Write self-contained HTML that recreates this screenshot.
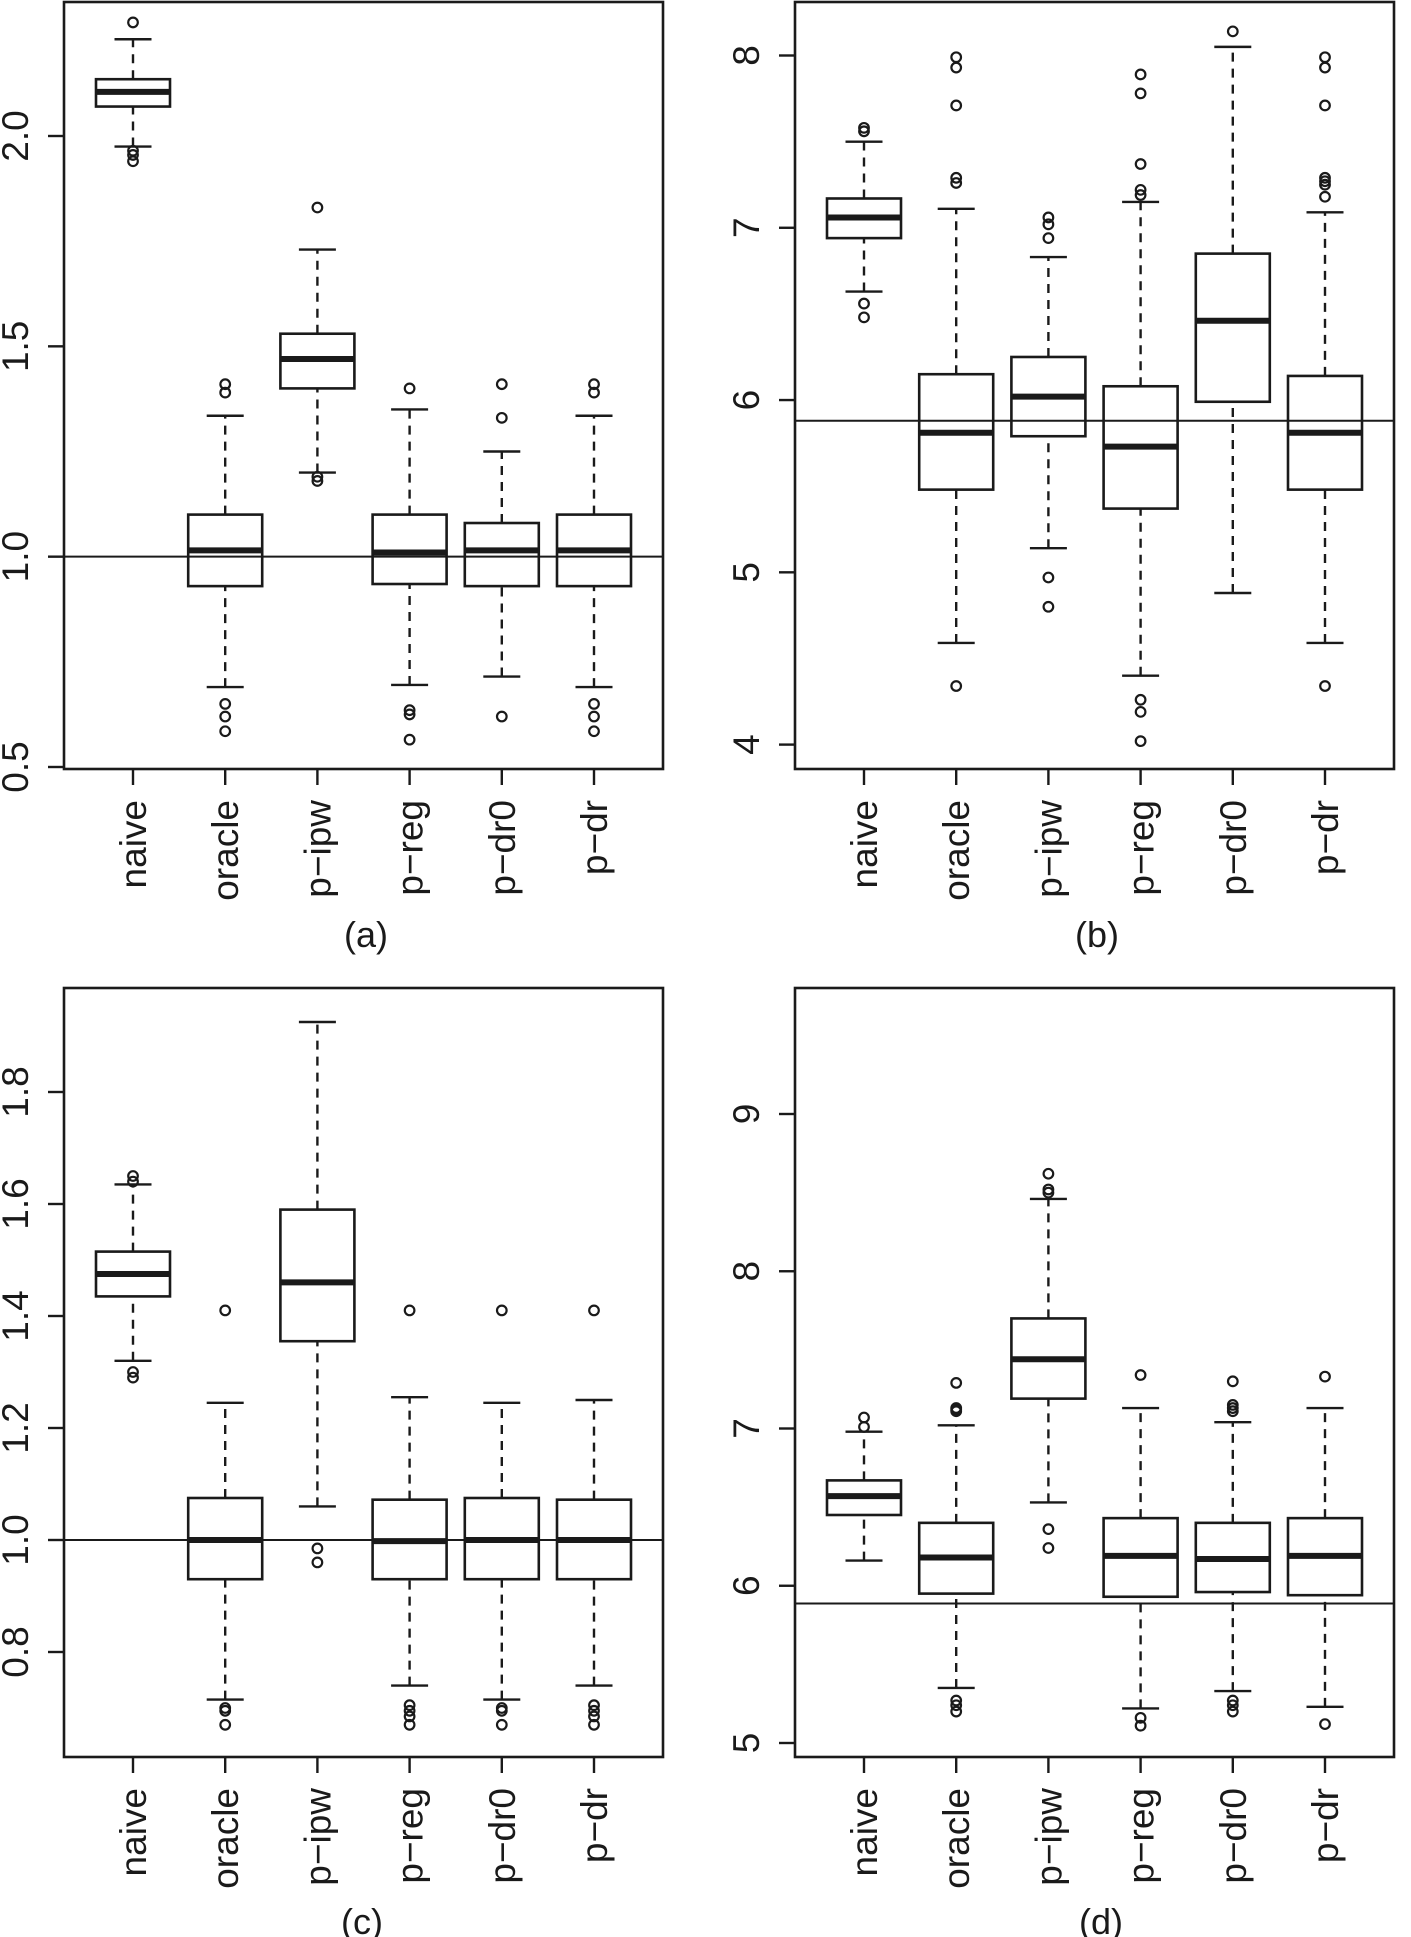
<!DOCTYPE html>
<html><head><meta charset="utf-8"><style>
html,body{margin:0;padding:0;background:#fff;}
svg{display:block;}
text{font-family:"Liberation Sans",sans-serif;fill:#1a1a1a;}
</style></head>
<body>
<svg id="fig" width="1411" height="1937" viewBox="0 0 1411 1937" xmlns="http://www.w3.org/2000/svg"></svg>
<script>
const categories = ["naive","oracle","p\u2212ipw","p\u2212reg","p\u2212dr0","p\u2212dr"];

// each row: [lowerWhisker, q1, median, q3, upperWhisker]
const statsA = [[1.975,2.07,2.105,2.135,2.23],[0.69,0.93,1.015,1.10,1.335],[1.20,1.40,1.47,1.53,1.73],[0.695,0.935,1.01,1.10,1.35],[0.715,0.93,1.015,1.08,1.25],[0.69,0.93,1.015,1.10,1.335]];
const outliersA = [[2.27,1.965,1.955,1.94],[1.41,1.39,0.65,0.62,0.585],[1.83,1.19,1.18],[1.40,0.635,0.625,0.565],[1.41,1.33,0.62],[1.41,1.39,0.65,0.62,0.585]];
const ticksA = [0.5,1.0,1.5,2.0];
const tickLabelsA = ["0.5","1.0","1.5","2.0"];
const refA = 1.0;

const statsB = [[6.63,6.94,7.06,7.17,7.50],[4.59,5.48,5.81,6.15,7.11],[5.14,5.79,6.02,6.25,6.83],[4.40,5.37,5.73,6.08,7.15],[4.88,5.99,6.46,6.85,8.05],[4.59,5.48,5.81,6.14,7.09]];
const outliersB = [[7.58,7.56,6.56,6.48],[7.99,7.93,7.71,7.29,7.26,4.34],[7.06,7.02,6.94,4.97,4.80],[7.89,7.78,7.37,7.22,7.19,4.26,4.19,4.02],[8.14],[7.99,7.93,7.71,7.29,7.27,7.25,7.18,4.34]];
const ticksB = [4,5,6,7,8];
const tickLabelsB = ["4","5","6","7","8"];
const refB = 5.88;

const statsC = [[1.32,1.435,1.475,1.515,1.635],[0.715,0.93,1.0,1.075,1.245],[1.06,1.355,1.46,1.59,1.925],[0.74,0.93,0.998,1.072,1.255],[0.715,0.93,1.0,1.075,1.245],[0.74,0.93,1.0,1.072,1.25]];
const outliersC = [[1.65,1.64,1.30,1.29],[1.41,0.70,0.695,0.67],[0.985,0.96],[1.41,0.705,0.695,0.685,0.67],[1.41,0.70,0.695,0.67],[1.41,0.705,0.695,0.685,0.67]];
const ticksC = [0.8,1.0,1.2,1.4,1.6,1.8];
const tickLabelsC = ["0.8","1.0","1.2","1.4","1.6","1.8"];
const refC = 1.0;

const statsD = [[6.16,6.45,6.57,6.67,6.98],[5.35,5.95,6.18,6.40,7.02],[6.53,7.19,7.44,7.70,8.46],[5.22,5.93,6.19,6.43,7.13],[5.33,5.96,6.17,6.40,7.04],[5.23,5.94,6.19,6.43,7.13]];
const outliersD = [[7.07,7.01],[7.29,7.13,7.12,7.11,5.27,5.24,5.20],[8.62,8.52,8.50,6.36,6.24],[7.34,5.16,5.11],[7.30,7.15,7.13,7.11,5.27,5.24,5.20],[7.33,5.12]];
const ticksD = [5,6,7,8,9];
const tickLabelsD = ["5","6","7","8","9"];
const refD = 5.887;

const NS = "http://www.w3.org/2000/svg";
const svg = document.getElementById("fig");
const INK = "#1a1a1a";

function mk(tag, attrs, parent){
  const e = document.createElementNS(NS, tag);
  for (const k in attrs) e.setAttribute(k, attrs[k]);
  parent.appendChild(e);
  return e;
}

const panels = [
  {id:"a", label:"(a)", x0:64, x1:663, y0:2, y1:769, v1:0.5, p1:767, v2:2.0, p2:136, stats:statsA, outs:outliersA, ticks:ticksA, tl:tickLabelsA, ref:refA, lx:366, ly:947},
  {id:"b", label:"(b)", x0:795, x1:1394, y0:2, y1:769, v1:4, p1:744.6, v2:8, p2:55.5, stats:statsB, outs:outliersB, ticks:ticksB, tl:tickLabelsB, ref:refB, lx:1097, ly:947},
  {id:"c", label:"(c)", x0:64, x1:663, y0:988, y1:1757, v1:0.8, p1:1652, v2:1.8, p2:1092, stats:statsC, outs:outliersC, ticks:ticksC, tl:tickLabelsC, ref:refC, lx:362, ly:1934},
  {id:"d", label:"(d)", x0:795, x1:1394, y0:988, y1:1757, v1:5, p1:1743, v2:9, p2:1114, stats:statsD, outs:outliersD, ticks:ticksD, tl:tickLabelsD, ref:refD, lx:1101, ly:1934}
];

panels.forEach(P => {
  const g = mk("g", {}, svg);
  
  
  const yScale = v => P.p1 + (v - P.v1) * (P.p2 - P.p1) / (P.v2 - P.v1);
  const step = (P.x1 - P.x0 - 138) / (categories.length - 1);
  const xScale = i => P.x0 + 69 + i * step;
  const hw = 37, cap = 18.5;

  const rl = mk("line", {x1:P.x0, x2:P.x1, y1:yScale(P.ref), y2:yScale(P.ref), stroke:INK, "stroke-width":2}, g);
  
  

  P.stats.forEach((s, i) => {
    const cx = xScale(i);
    const bg = mk("g", {}, g);
    
    
    mk("line", {x1:cx, x2:cx, y1:yScale(s[0]), y2:yScale(s[1]), stroke:INK, "stroke-width":2.4, "stroke-dasharray":"9,7"}, bg);
    mk("line", {x1:cx, x2:cx, y1:yScale(s[3]), y2:yScale(s[4]), stroke:INK, "stroke-width":2.4, "stroke-dasharray":"9,7"}, bg);
    mk("line", {x1:cx-cap, x2:cx+cap, y1:yScale(s[0]), y2:yScale(s[0]), stroke:INK, "stroke-width":2.4}, bg);
    mk("line", {x1:cx-cap, x2:cx+cap, y1:yScale(s[4]), y2:yScale(s[4]), stroke:INK, "stroke-width":2.4}, bg);
    mk("rect", {x:cx-hw, y:yScale(s[3]), width:2*hw, height:yScale(s[1])-yScale(s[3]), fill:"none", stroke:INK, "stroke-width":2.6}, bg);
    mk("line", {x1:cx-hw, x2:cx+hw, y1:yScale(s[2]), y2:yScale(s[2]), stroke:INK, "stroke-width":6}, bg);
    P.outs[i].forEach(o => {
      const c = mk("circle", {cx:cx, cy:yScale(o), r:4.8, fill:"none", stroke:INK, "stroke-width":2.2}, bg);
      
      
    });
    mk("line", {x1:cx, x2:cx, y1:P.y1, y2:P.y1+16, stroke:INK, "stroke-width":2.4}, g);
    const t = mk("text", {x:0, y:0, "font-size":37, "text-anchor":"end", transform:`translate(${cx+13},${P.y1+31}) rotate(-90)`}, g);
    t.textContent = categories[i];
    
    
  });

  P.ticks.forEach((v, k) => {
    const y = yScale(v);
    mk("line", {x1:P.x0-16, x2:P.x0, y1:y, y2:y, stroke:INK, "stroke-width":2.4}, g);
    const t = mk("text", {x:0, y:0, "font-size":37, "text-anchor":"middle", transform:`translate(${P.x0-36},${y}) rotate(-90)`}, g);
    t.textContent = P.tl[k];
    
    
  });

  const fr = mk("rect", {x:P.x0, y:P.y0, width:P.x1-P.x0, height:P.y1-P.y0, fill:"none", stroke:INK, "stroke-width":2.6}, g);
  
  

  const lab = mk("text", {x:P.lx, y:P.ly, "font-size":36, "text-anchor":"middle"}, g);
  lab.textContent = P.label;
  
  
});
</script>
</body></html>
